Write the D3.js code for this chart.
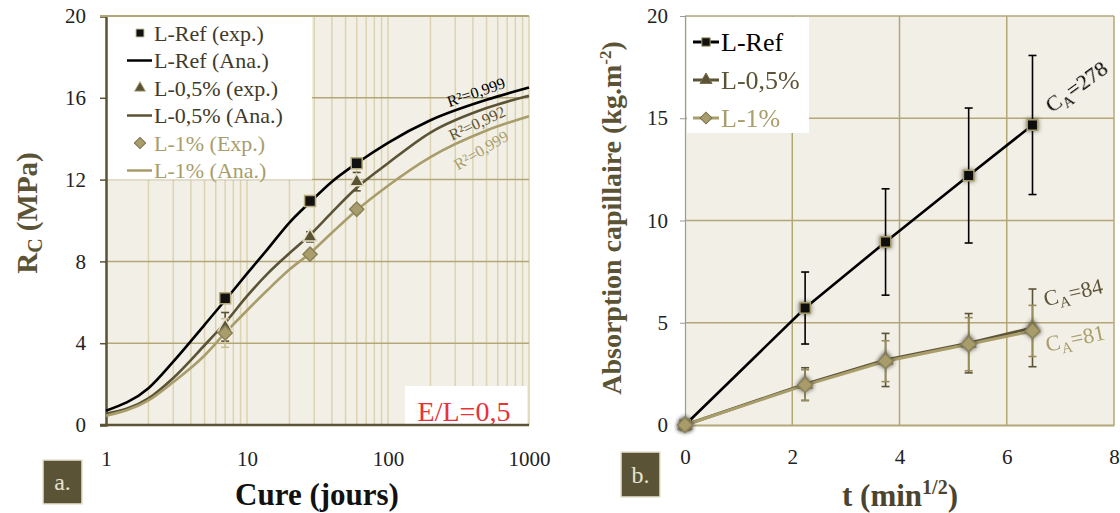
<!DOCTYPE html>
<html>
<head>
<meta charset="utf-8">
<script src="https://cdn.jsdelivr.net/npm/d3@7"></script>
<style>
  body { margin: 0; background: #fff; }
  svg { display: block; font-family: 'Liberation Serif', 'DejaVu Serif', serif; }
</style>
</head>
<body>
<div id="chart"></div>
<script>
// --- left panel: compressive strength vs curing time
const cureDays = [1, 2, 3, 5, 7, 10, 14, 20, 28, 40, 60, 100, 200, 500, 1000];
const refAna = [0.7, 1.8, 3.1, 4.9, 6.1, 7.4, 8.6, 9.9, 10.9, 11.9, 12.8, 13.8, 14.9, 15.9, 16.5];
const p05Ana = [0.55, 1.3, 2.3, 3.9, 5.0, 6.3, 7.4, 8.4, 9.3, 10.4, 11.6, 12.8, 14.3, 15.5, 16.1];
const p1Ana = [0.45, 1.2, 2.1, 3.4, 4.5, 5.6, 6.6, 7.6, 8.4, 9.4, 10.5, 11.7, 13.1, 14.4, 15.1];
const expDays = [7, 28, 60];
const refExp = [6.2, 10.95, 12.8];
const p05Exp = [4.8, 9.2, 11.9];
const p05ExpErr = [0.7, 0.25, 0.45];
const p1Exp = [4.5, 8.35, 10.55];
const p1ExpErr = [0.7, 0.2, 0.2];
const r2Labels = ['R²=0,999', 'R²=0,992', 'R²=0,999'];
const rcTicks = [0, 4, 8, 12, 16, 20];
const cureTicks = [1, 10, 100, 1000];

// --- right panel: capillary absorption vs sqrt(t)
const sqrtT = [0, 2.24, 3.74, 5.29, 6.48];
const refAbs = [0, 5.72, 8.95, 12.2, 14.67];
const refAbsErr = [0, 1.76, 2.6, 3.3, 3.4];
const p05Abs = [0, 2.0, 3.18, 4.0, 4.75];
const p05AbsErr = [0, 0.8, 1.3, 1.45, 1.9];
const p1Abs = [0, 1.95, 3.12, 3.95, 4.6];
const p1AbsErr = [0, 0.75, 1.0, 1.3, 1.25];
const caLabels = ['278', '84', '81'];
const absTicks = [0, 5, 10, 15, 20];
const tTicks = [0, 2, 4, 6, 8];

const black = '#000';
const dark = '#5b5335';
const light = '#a89d6b';
const grid = '#b3a777';
const minorGrid = '#dbd3b2';
const plotBg = '#f2efe6';

const svg = d3.select('#chart')
  .append('svg')
  .attr('width', 1120)
  .attr('height', 513);

const defs = svg.append('defs');
const shadow = defs.append('filter')
  .attr('id', 'shadow')
  .attr('x', '-60%').attr('y', '-60%')
  .attr('width', '220%').attr('height', '220%');
shadow.append('feDropShadow')
  .attr('dx', 0).attr('dy', 0)
  .attr('stdDeviation', 2)
  .attr('flood-color', '#333')
  .attr('flood-opacity', 0.7);

// ================= LEFT PANEL =================
const xL = d3.scaleLog().domain([1, 1000]).range([106, 529]);
const yL = d3.scaleLinear().domain([0, 20]).range([425, 16]);

const left = svg.append('g');

left.append('rect')
  .attr('x', xL.range()[0]).attr('y', yL(20))
  .attr('width', xL.range()[1] - xL.range()[0])
  .attr('height', yL(0) - yL(20))
  .attr('fill', plotBg);

// minor vertical gridlines (every 1..9 x decade)
left.append('g')
  .selectAll('line')
  .data(xL.ticks().filter(d => d > 1))
  .enter()
  .append('line')
    .attr('x1', d => xL(d)).attr('x2', d => xL(d))
    .attr('y1', yL(0)).attr('y2', yL(20))
    .attr('stroke', minorGrid)
    .attr('stroke-width', 1.5);

// horizontal gridlines
left.append('g')
  .selectAll('line')
  .data(rcTicks.filter(d => d > 0))
  .enter()
  .append('line')
    .attr('x1', xL.range()[0]).attr('x2', xL.range()[1])
    .attr('y1', d => yL(d)).attr('y2', d => yL(d))
    .attr('stroke', grid)
    .attr('stroke-width', 1.5);

// legend box (white)
left.append('rect')
  .attr('x', 107).attr('y', yL(20) + 1)
  .attr('width', 205).attr('height', yL(12) - yL(20) - 1)
  .attr('fill', '#fff');

// E/L box
left.append('rect')
  .attr('x', 405).attr('y', 386)
  .attr('width', 122).attr('height', yL(0) - 386 - 1)
  .attr('fill', '#fff');
left.append('text')
  .attr('x', 464).attr('y', 421)
  .attr('text-anchor', 'middle')
  .attr('fill', '#e8323a')
  .attr('font-size', 28)
  .text('E/L=0,5');

// axes
const axisYL = left.append('g')
  .attr('transform', `translate(${xL.range()[0]},0)`)
  .call(d3.axisLeft(yL).tickValues(rcTicks).tickSize(6).tickPadding(14));
axisYL.select('.domain').attr('stroke', dark).attr('stroke-width', 2.5);
axisYL.selectAll('.tick line').attr('stroke', dark).attr('stroke-width', 1.5);
axisYL.selectAll('.tick text')
  .attr('font-size', 21).attr('fill', '#222')
  .attr('font-family', 'Liberation Serif');

const axisXL = left.append('g')
  .attr('transform', `translate(0,${yL(0)})`)
  .call(d3.axisBottom(xL).tickValues(cureTicks).tickFormat(d3.format('d')).tickSize(0).tickPadding(26));
axisXL.select('.domain').remove();
axisXL.selectAll('.tick text')
  .attr('font-size', 21).attr('fill', '#222')
  .attr('font-family', 'Liberation Serif');

left.append('line')
  .attr('x1', 100).attr('x2', xL.range()[1])
  .attr('y1', yL(0)).attr('y2', yL(0))
  .attr('stroke', dark).attr('stroke-width', 2.5);
left.append('line')
  .attr('x1', 100).attr('x2', xL.range()[1])
  .attr('y1', yL(20)).attr('y2', yL(20))
  .attr('stroke', grid).attr('stroke-width', 2);

// analytical curves
const lineL = d3.line()
  .x((d, i) => xL(cureDays[i]))
  .y(d => yL(d))
  .curve(d3.curveMonotoneX);

[[refAna, black], [p05Ana, dark], [p1Ana, light]].forEach(([vals, col]) => {
  left.append('path')
    .datum(vals)
    .attr('fill', 'none')
    .attr('stroke', col)
    .attr('stroke-width', 2.6)
    .attr('d', lineL);
});

// error bars
function errBars(g, xs, ys, errs, xScale, yScale, col, cap) {
  const eb = g.append('g').attr('stroke', col).attr('stroke-width', 1.6);
  xs.forEach((x, i) => {
    if (!errs[i]) return;
    const px = xScale(x);
    const top = yScale(ys[i] + errs[i]);
    const bot = yScale(ys[i] - errs[i]);
    eb.append('line').attr('x1', px).attr('x2', px).attr('y1', top).attr('y2', bot);
    eb.append('line').attr('x1', px - cap).attr('x2', px + cap).attr('y1', top).attr('y2', top);
    eb.append('line').attr('x1', px - cap).attr('x2', px + cap).attr('y1', bot).attr('y2', bot);
  });
}
errBars(left, expDays, p05Exp, p05ExpErr, xL, yL, dark, 4);
errBars(left, expDays, p1Exp, p1ExpErr, xL, yL, '#c8bf95', 4);

// markers
const square = d3.symbol().type(d3.symbolSquare).size(120);
const triangle = d3.symbol().type(d3.symbolTriangle).size(85);
const diamond = d3.symbol().type(d3.symbolSquare).size(100);

function markers(g, xs, ys, xScale, yScale, kind) {
  g.append('g')
    .selectAll('path')
    .data(ys)
    .enter()
    .append('path')
      .attr('transform', (d, i) => `translate(${xScale(xs[i])},${yScale(d)})${kind === 'diamond' ? ' rotate(45)' : ''}`)
      .attr('d', kind === 'square' ? square : kind === 'triangle' ? triangle : diamond)
      .attr('fill', kind === 'square' ? '#111' : kind === 'triangle' ? dark : light)
      .attr('stroke', kind === 'square' ? '#b5aa7c' : kind === 'triangle' ? '#e6dfc4' : '#8c8258')
      .attr('stroke-width', 1.5);
}
markers(left, expDays, refExp, xL, yL, 'square');
markers(left, expDays, p05Exp, xL, yL, 'triangle');
markers(left, expDays, p1Exp, xL, yL, 'diamond');

// R² labels
const r2Pos = [[476, 92, -19, black], [477, 123, -25, dark], [481, 150, -31, light]];
r2Labels.forEach((t, i) => {
  const [x, y, a, col] = r2Pos[i];
  left.append('text')
    .attr('transform', `translate(${x},${y}) rotate(${a})`)
    .attr('text-anchor', 'middle')
    .attr('dy', '0.35em')
    .attr('fill', col)
    .attr('font-size', 16)
    .text(t);
});

// legend
const legL = [
  ['L-Ref (exp.)', 'square', black, '#3f3a2a'],
  ['L-Ref (Ana.)', 'line', black, '#3f3a2a'],
  ['L-0,5% (exp.)', 'triangle', dark, '#3f3a2a'],
  ['L-0,5% (Ana.)', 'line', dark, '#3f3a2a'],
  ['L-1% (Exp.)', 'diamond', light, light],
  ['L-1% (Ana.)', 'line', light, light],
];
const legG = left.append('g');
legL.forEach(([label, kind, col, tcol], i) => {
  const y = 33 + i * 27.5;
  if (kind === 'line') {
    legG.append('line')
      .attr('x1', 127).attr('x2', 152).attr('y1', y).attr('y2', y)
      .attr('stroke', col).attr('stroke-width', 2.5);
  } else {
    legG.append('path')
      .attr('transform', `translate(140,${y})${kind === 'diamond' ? ' rotate(45)' : ''}`)
      .attr('d', kind === 'square' ? d3.symbol().type(d3.symbolSquare).size(64)
        : kind === 'triangle' ? d3.symbol().type(d3.symbolTriangle).size(56)
        : d3.symbol().type(d3.symbolSquare).size(64))
      .attr('fill', kind === 'square' ? '#111' : col)
      .attr('stroke', kind === 'diamond' ? '#7a7050' : '#c9c0a0')
      .attr('stroke-width', 1);
  }
  legG.append('text')
    .attr('x', 154).attr('y', y)
    .attr('dy', '0.35em')
    .attr('fill', tcol)
    .attr('font-size', 22)
    .text(label);
});

// axis titles
const yTitleL = left.append('text')
  .attr('transform', 'translate(37,213) rotate(-90)')
  .attr('text-anchor', 'middle')
  .attr('fill', dark)
  .attr('font-size', 29)
  .attr('font-weight', 'bold');
yTitleL.append('tspan').text('R');
yTitleL.append('tspan').attr('font-size', 20).attr('dy', 5).text('C');
yTitleL.append('tspan').attr('dy', -5).text(' (MPa)');

left.append('text')
  .attr('x', 317).attr('y', 505)
  .attr('text-anchor', 'middle')
  .attr('fill', '#111')
  .attr('font-size', 31)
  .attr('font-weight', 'bold')
  .text('Cure (jours)');

// panel tag a.
left.append('rect')
  .attr('x', 43).attr('y', 460).attr('width', 39).attr('height', 44)
  .attr('fill', dark).attr('stroke', '#e8e3d2').attr('stroke-width', 1.5);
left.append('text')
  .attr('x', 62.5).attr('y', 482).attr('dy', '0.35em')
  .attr('text-anchor', 'middle')
  .attr('fill', '#e8e3d2')
  .attr('font-size', 24)
  .text('a.');

// ================= RIGHT PANEL =================
const xR = d3.scaleLinear().domain([0, 8]).range([685, 1114]);
const yR = d3.scaleLinear().domain([0, 20]).range([425, 16]);

const right = svg.append('g');

right.append('rect')
  .attr('x', xR(0)).attr('y', yR(20))
  .attr('width', xR(8) - xR(0))
  .attr('height', yR(0) - yR(20))
  .attr('fill', plotBg);

right.append('g')
  .selectAll('line')
  .data(tTicks.filter(d => d > 0))
  .enter()
  .append('line')
    .attr('x1', d => xR(d)).attr('x2', d => xR(d))
    .attr('y1', yR(0)).attr('y2', yR(20))
    .attr('stroke', grid).attr('stroke-width', 1.5);

right.append('g')
  .selectAll('line')
  .data(absTicks.filter(d => d > 0))
  .enter()
  .append('line')
    .attr('x1', xR(0)).attr('x2', xR(8))
    .attr('y1', d => yR(d)).attr('y2', d => yR(d))
    .attr('stroke', grid).attr('stroke-width', 1.5);

// legend box
right.append('rect')
  .attr('x', 687).attr('y', yR(20) + 1)
  .attr('width', 122).attr('height', 116)
  .attr('fill', '#fff');

const axisYR = right.append('g')
  .attr('transform', `translate(${xR(0)},0)`)
  .call(d3.axisLeft(yR).tickValues(absTicks).tickSize(5).tickPadding(12));
axisYR.select('.domain').attr('stroke', '#9a9a9a').attr('stroke-width', 1.2);
axisYR.selectAll('.tick line').attr('stroke', '#9a9a9a');
axisYR.selectAll('.tick text')
  .attr('font-size', 21).attr('fill', '#222')
  .attr('font-family', 'Liberation Serif');

const axisXR = right.append('g')
  .attr('transform', `translate(0,${yR(0)})`)
  .call(d3.axisBottom(xR).tickValues(tTicks).tickSize(0).tickPadding(24));
axisXR.select('.domain').attr('stroke', grid).attr('stroke-width', 2);
axisXR.selectAll('.tick text')
  .attr('font-size', 21).attr('fill', '#222')
  .attr('font-family', 'Liberation Serif');

const lineR = d3.line()
  .x((d, i) => xR(sqrtT[i]))
  .y(d => yR(d));

const seriesR = [
  [refAbs, refAbsErr, black, 'square', 2.6],
  [p05Abs, p05AbsErr, dark, 'triangle', 3],
  [p1Abs, p1AbsErr, light, 'diamond', 3],
];
seriesR.forEach(([vals, errs, col, kind, w]) => {
  errBars(right, sqrtT, vals, errs, xR, yR, col === light ? '#978c5c' : col, 4);
});
seriesR.forEach(([vals, errs, col, kind, w]) => {
  right.append('path')
    .datum(vals)
    .attr('fill', 'none')
    .attr('stroke', col)
    .attr('stroke-width', w)
    .attr('d', lineR);
});
seriesR.forEach(([vals, errs, col, kind]) => {
  right.append('g')
    .attr('filter', 'url(#shadow)')
    .selectAll('path')
    .data(vals)
    .enter()
    .append('path')
      .attr('transform', (d, i) => `translate(${xR(sqrtT[i])},${yR(d)})${kind === 'diamond' ? ' rotate(45)' : ''}`)
      .attr('d', kind === 'square' ? d3.symbol().type(d3.symbolSquare).size(110)
        : kind === 'triangle' ? d3.symbol().type(d3.symbolTriangle).size(80)
        : d3.symbol().type(d3.symbolSquare).size(110))
      .attr('fill', kind === 'square' ? '#111' : col)
      .attr('stroke', kind === 'square' ? '#a89d6b' : '#8c8258')
      .attr('stroke-width', 1.5);
});

// C_A labels
const caPos = [[1076, 86, -36, black], [1073, 292, -13, dark], [1075, 338, -12, light]];
caLabels.forEach((v, i) => {
  const [x, y, a, col] = caPos[i];
  const t = right.append('text')
    .attr('transform', `translate(${x},${y}) rotate(${a})`)
    .attr('text-anchor', 'middle')
    .attr('dy', '0.35em')
    .attr('fill', col)
    .attr('font-size', 22);
  t.append('tspan').text('C');
  t.append('tspan').attr('font-size', 15).attr('dy', 5).text('A');
  t.append('tspan').attr('dy', -5).text('=' + v);
});

// legend
const legR = [['L-Ref', 'square', black], ['L-0,5%', 'triangle', dark], ['L-1%', 'diamond', light]];
legR.forEach(([label, kind, col], i) => {
  const y = 42 + i * 38;
  right.append('line')
    .attr('x1', 693).attr('x2', 719).attr('y1', y).attr('y2', y)
    .attr('stroke', col).attr('stroke-width', 3);
  right.append('path')
    .attr('transform', `translate(706,${y})${kind === 'diamond' ? ' rotate(45)' : ''}`)
    .attr('d', d3.symbol().type(kind === 'triangle' ? d3.symbolTriangle : d3.symbolSquare).size(kind === 'triangle' ? 64 : 70))
    .attr('fill', kind === 'square' ? '#111' : col)
    .attr('stroke', kind === 'square' ? '#a89d6b' : '#7a7050')
    .attr('stroke-width', 1);
  right.append('text')
    .attr('x', 721).attr('y', y)
    .attr('dy', '0.35em')
    .attr('fill', col)
    .attr('font-size', 26)
    .text(label);
});

// axis titles
const yTitleR = right.append('text')
  .attr('transform', 'translate(621,218) rotate(-90)')
  .attr('text-anchor', 'middle')
  .attr('fill', dark)
  .attr('font-size', 28)
  .attr('font-weight', 'bold');
yTitleR.append('tspan').text('Absorption capillaire (kg.m');
yTitleR.append('tspan').attr('font-size', 17).attr('dy', -10).text('-2');
yTitleR.append('tspan').attr('dy', 10).text(')');

const xTitleR = right.append('text')
  .attr('x', 900).attr('y', 506)
  .attr('text-anchor', 'middle')
  .attr('fill', '#4a4430')
  .attr('font-size', 31)
  .attr('font-weight', 'bold');
xTitleR.append('tspan').text('t (min');
xTitleR.append('tspan').attr('font-size', 20).attr('dy', -12).text('1/2');
xTitleR.append('tspan').attr('dy', 12).text(')');

// panel tag b.
right.append('rect')
  .attr('x', 621).attr('y', 452).attr('width', 39).attr('height', 45)
  .attr('fill', dark).attr('stroke', '#e8e3d2').attr('stroke-width', 1.5);
right.append('text')
  .attr('x', 640.5).attr('y', 474.5).attr('dy', '0.35em')
  .attr('text-anchor', 'middle')
  .attr('fill', '#e8e3d2')
  .attr('font-size', 24)
  .text('b.');
</script>
</body>
</html>
